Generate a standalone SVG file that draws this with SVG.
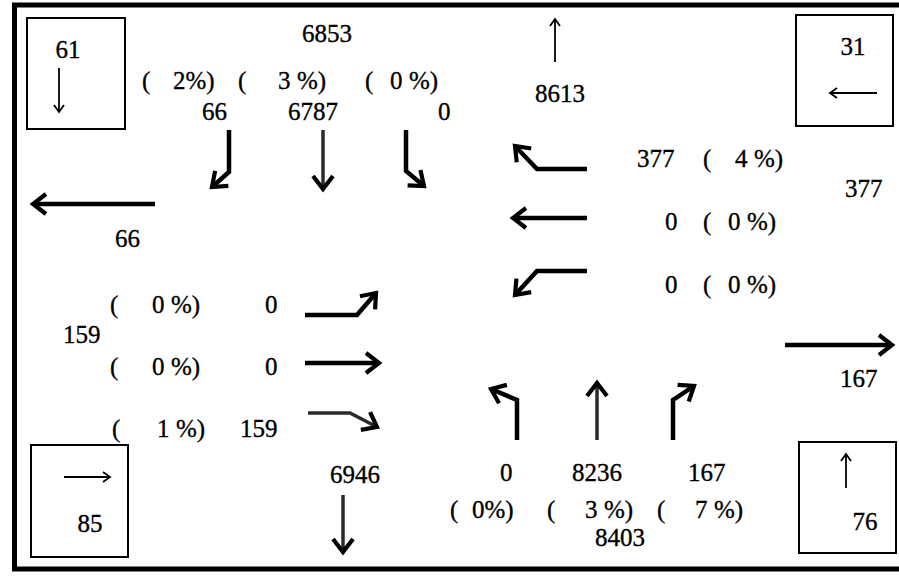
<svg xmlns="http://www.w3.org/2000/svg" width="899" height="579" viewBox="0 0 899 579">
  <style>
    text { font-family: "Liberation Serif", "Times New Roman", serif; font-size: 25px; fill: #000; stroke: #000; stroke-width: 0.35; }
    .frame { fill: none; stroke: #000; stroke-width: 5; }
    .box { fill: #fff; stroke: #000; stroke-width: 2; }
    .thick { fill: none; stroke: #000; stroke-width: 4.5; marker-end: url(#hd); }
    .mid { fill: none; stroke: #2a2a2a; stroke-width: 3.5; marker-end: url(#hd); }
    .thin { fill: none; stroke: #000; stroke-width: 1.8; marker-end: url(#hs); }
  </style>
  <defs>
    <marker id="hd" viewBox="-18 -13 22 26" refX="0" refY="0" markerWidth="22" markerHeight="26" markerUnits="userSpaceOnUse" orient="auto">
      <path d="M-13,-10 L0,0 L-13,10" fill="none" stroke="#000" stroke-width="4.2"/>
    </marker>
    <marker id="hs" viewBox="-10 -7 12 14" refX="0" refY="0" markerWidth="12" markerHeight="14" markerUnits="userSpaceOnUse" orient="auto">
      <path d="M-7,-5 L0,0 L-7,5" fill="none" stroke="#000" stroke-width="1.8"/>
    </marker>
  </defs>

  <rect class="frame" x="14.5" y="5" width="900" height="564"/>

  <!-- corner boxes -->
  <g id="box-nw">
    <rect class="box" x="27" y="18" width="98" height="111"/>
    <text x="68" y="58" text-anchor="middle">61</text>
    <path class="thin" d="M59,68 V112"/>
  </g>
  <g id="box-ne">
    <rect class="box" x="796" y="15" width="97" height="111"/>
    <text x="853" y="55" text-anchor="middle">31</text>
    <path class="thin" d="M877,93 H830"/>
  </g>
  <g id="box-sw">
    <rect class="box" x="31" y="445" width="97" height="112"/>
    <text x="90" y="532" text-anchor="middle">85</text>
    <path class="thin" d="M64,477 H110"/>
  </g>
  <g id="box-se">
    <rect class="box" x="799" y="442" width="97" height="111"/>
    <text x="865" y="530" text-anchor="middle">76</text>
    <path class="thin" d="M846,488 V454"/>
  </g>

  <!-- north approach -->
  <g id="north">
    <text x="302" y="42">6853</text>
    <text y="89"><tspan x="142">(</tspan><tspan x="173">2%)</tspan><tspan x="238">(</tspan><tspan x="278">3</tspan><tspan x="297">%)</tspan><tspan x="365">(</tspan><tspan x="390">0</tspan><tspan x="409">%)</tspan></text>
    <text y="120"><tspan x="202">66</tspan><tspan x="288">6787</tspan><tspan x="438">0</tspan></text>
    <text x="535" y="102">8613</text>
  </g>

  <!-- east approach -->
  <g id="east">
    <text y="167"><tspan x="637">377</tspan><tspan x="703">(</tspan><tspan x="735">4</tspan><tspan x="754">%)</tspan></text>
    <text x="845" y="197">377</text>
    <text y="230"><tspan x="665">0</tspan><tspan x="703">(</tspan><tspan x="728">0</tspan><tspan x="747">%)</tspan></text>
    <text y="293"><tspan x="665">0</tspan><tspan x="703">(</tspan><tspan x="728">0</tspan><tspan x="747">%)</tspan></text>
    <text x="840" y="387">167</text>
  </g>

  <!-- west approach -->
  <g id="west">
    <text x="115" y="247">66</text>
    <text y="313"><tspan x="110">(</tspan><tspan x="152">0</tspan><tspan x="171">%)</tspan><tspan x="265">0</tspan></text>
    <text x="63" y="343">159</text>
    <text y="375"><tspan x="110">(</tspan><tspan x="152">0</tspan><tspan x="171">%)</tspan><tspan x="265">0</tspan></text>
    <text y="437"><tspan x="112">(</tspan><tspan x="157">1</tspan><tspan x="176">%)</tspan><tspan x="240">159</tspan></text>
  </g>

  <!-- south approach -->
  <g id="south">
    <text x="330" y="483">6946</text>
    <text y="481"><tspan x="500">0</tspan><tspan x="572">8236</tspan><tspan x="688">167</tspan></text>
    <text y="518"><tspan x="450">(</tspan><tspan x="472">0%)</tspan><tspan x="547">(</tspan><tspan x="585">3</tspan><tspan x="604">%)</tspan><tspan x="657">(</tspan><tspan x="695">7</tspan><tspan x="714">%)</tspan></text>
    <text x="595" y="546">8403</text>
  </g>

  <!-- movement arrows -->
  <g id="connectors">
    <!-- southbound lanes -->
    <path class="thick" d="M229,130 V172 L212,187"/>
    <path class="mid" d="M323,130 V189"/>
    <path class="thick" d="M406,130 V171 L424,186"/>
    <!-- north exit / west exit -->
    <path class="thin" d="M555,62 V19"/>
    <path class="thick" d="M155,204 H33"/>
    <!-- westbound lanes -->
    <path class="thick" d="M587,169 H537 L515,146"/>
    <path class="thick" d="M587,218 H513"/>
    <path class="thick" d="M587,271 H537 L515,295"/>
    <!-- eastbound lanes -->
    <path class="thick" d="M305,315 H357 L376,293"/>
    <path class="thick" d="M305,363 H379"/>
    <path class="mid" d="M308,413 H350 L377,427"/>
    <!-- east exit / south exit -->
    <path class="thick" d="M785,345 H892"/>
    <path class="mid" d="M343,495 V552"/>
    <!-- northbound lanes -->
    <path class="thick" d="M517,440 V400 L491,389"/>
    <path class="mid" d="M597,440 V383"/>
    <path class="thick" d="M673,440 V400 L694,386"/>
  </g>
</svg>
